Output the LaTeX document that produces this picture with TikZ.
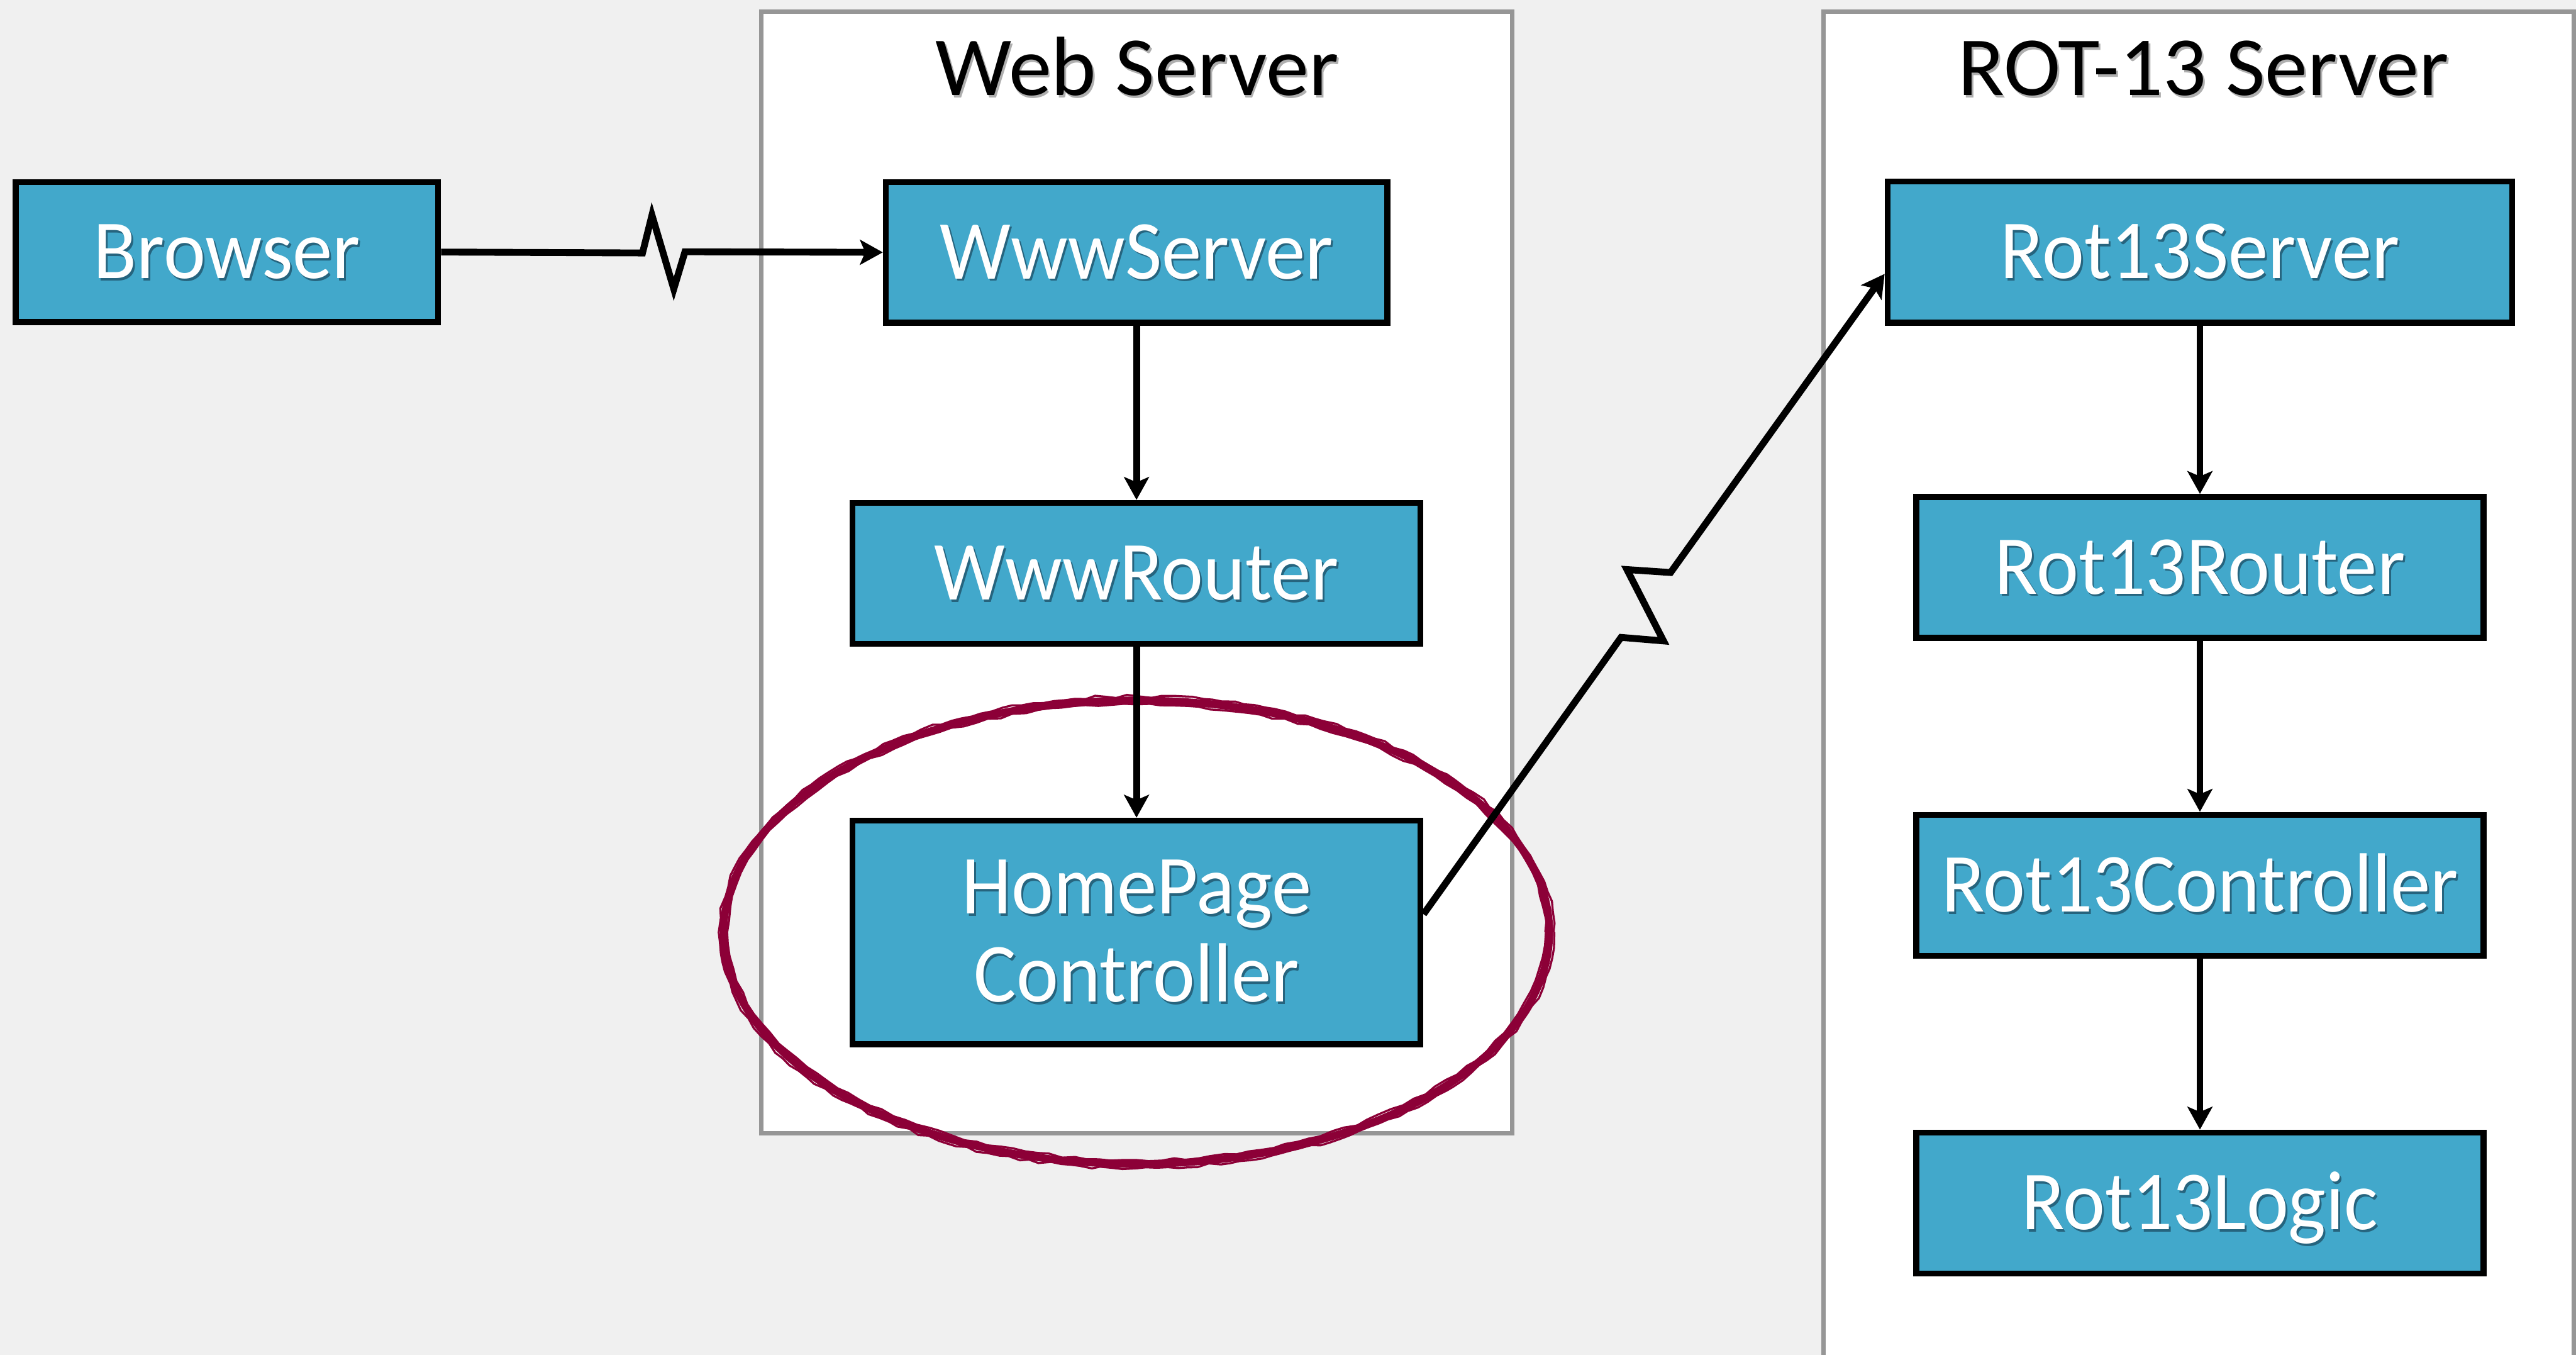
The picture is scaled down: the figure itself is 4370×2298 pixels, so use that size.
\documentclass[tikz,border=0pt]{standalone}
\usepackage{fontspec}
\setmainfont{Carlito}
\newfontfamily\boxfont[FakeStretch=0.95]{Carlito}
\newfontfamily\titlefont[FakeStretch=1.02]{Carlito}
\usetikzlibrary{arrows.meta,decorations.pathmorphing}

\definecolor{boxblue}{RGB}{66,168,203}
\definecolor{boxshadow}{RGB}{38,100,126}
\definecolor{titleshadow}{RGB}{175,175,175}
\definecolor{slidebg}{RGB}{240,240,240}
\definecolor{framegray}{RGB}{150,150,150}
\definecolor{markred}{RGB}{140,0,55}

% text with a soft drop shadow behind it
\newcommand\shadowed[2]{\makebox[0pt][l]{\textcolor{#1}{\raisebox{-1.1pt}{\kern0.9pt #2}}}#2}

\tikzset{
  comp/.style={draw=black, line width=2.9pt, fill=boxblue, text=white,
    font=\boxfont\fontsize{40.5}{42.5}\selectfont, inner sep=0pt, align=center},
  oneline/.style={text height=25.6pt, text depth=0pt},
  frame/.style={draw=framegray, line width=2.1pt, fill=white},
  heading/.style={font=\titlefont\fontsize{40.5}{42.5}\selectfont, anchor=base, inner sep=0pt},
  flow/.style={line width=3.3pt, -{Stealth[length=11pt,width=12pt,inset=2.5pt]}},
  link/.style={flow, line join=miter},
  ring/.style={draw=markred}
}

\begin{document}
\begin{tikzpicture}[x=0.01cm, y=-0.01cm]
  \useasboundingbox (0,0) rectangle (4370,2298);
  \clip (0,0) rectangle (4370,2298);
  \fill[slidebg] (0,0) rectangle (4370,2298);

  % the two server frames
  \path[frame] (1291,20) rectangle (2565,1922);
  \path[frame] (3093,20) rectangle (4366,2360);

  \node[heading] (webtitle) at (1929,162) {\shadowed{titleshadow}{Web Server}};
  \node[heading] (rottitle) at (3738,162) {\shadowed{titleshadow}{ROT-13 Server}};

  % hand-drawn highlight ring
  \draw[ring, line width=3.6pt] (1928,1581) ellipse [x radius=7.0cm, y radius=3.93cm];
  \draw[ring, line width=1pt, decorate, decoration={random steps, segment length=5pt, amplitude=0.8pt}]
    (1928,1581) ellipse [x radius=7.07cm, y radius=4.0cm];
  \draw[ring, line width=1pt, decorate, decoration={random steps, segment length=6pt, amplitude=0.7pt}]
    (1928,1581) ellipse [x radius=6.93cm, y radius=3.86cm];

  % components
  \node[comp, oneline, minimum width=7.16cm, minimum height=2.37cm] (browser) at (385,427.5)
    {\shadowed{boxshadow}{Browser}};
  \node[comp, oneline, minimum width=8.50cm, minimum height=2.38cm] (wwwsrv) at (1928,428)
    {\shadowed{boxshadow}{WwwServer}};
  \node[comp, oneline, minimum width=9.63cm, minimum height=2.39cm] (wwwrtr) at (1928,972.5)
    {\shadowed{boxshadow}{WwwRouter}};
  \node[comp, minimum width=9.63cm, minimum height=3.79cm] (homectl) at (1928,1581.5)
    {\shadowed{boxshadow}{HomePage}\\\shadowed{boxshadow}{Controller}};

  \node[comp, oneline, minimum width=10.59cm, minimum height=2.39cm] (rotsrv) at (3732,427.5)
    {\shadowed{boxshadow}{Rot13Server}};
  \node[comp, oneline, minimum width=9.62cm, minimum height=2.39cm] (rotrtr) at (3732,962.5)
    {\shadowed{boxshadow}{Rot13Router}};
  \node[comp, oneline, minimum width=9.62cm, minimum height=2.39cm] (rotctl) at (3732,1501.5)
    {\shadowed{boxshadow}{Rot13Controller}};
  \node[comp, oneline, minimum width=9.62cm, minimum height=2.39cm] (rotlogic) at (3732,2040.5)
    {\shadowed{boxshadow}{Rot13Logic}};

  % calls inside each server
  \draw[flow] (wwwsrv.south) -- (wwwrtr.north);
  \draw[flow] (wwwrtr.south) -- (homectl.north);
  \draw[flow] (rotsrv.south) -- (rotrtr.north);
  \draw[flow] (rotrtr.south) -- (rotctl.north);
  \draw[flow] (rotctl.south) -- (rotlogic.north);

  % network hops
  \draw[link] (browser.east) -- (1090,429) -- (1106,365) -- (1143,490) -- (1162,427) -- (wwwsrv.west);
  \draw[link] ([yshift=0.31cm]homectl.east) -- (2750,1081) -- (2822,1087) -- (2760,966)
    -- (2834,971) -- ([yshift=-0.37cm]rotsrv.west);
\end{tikzpicture}
\end{document}
